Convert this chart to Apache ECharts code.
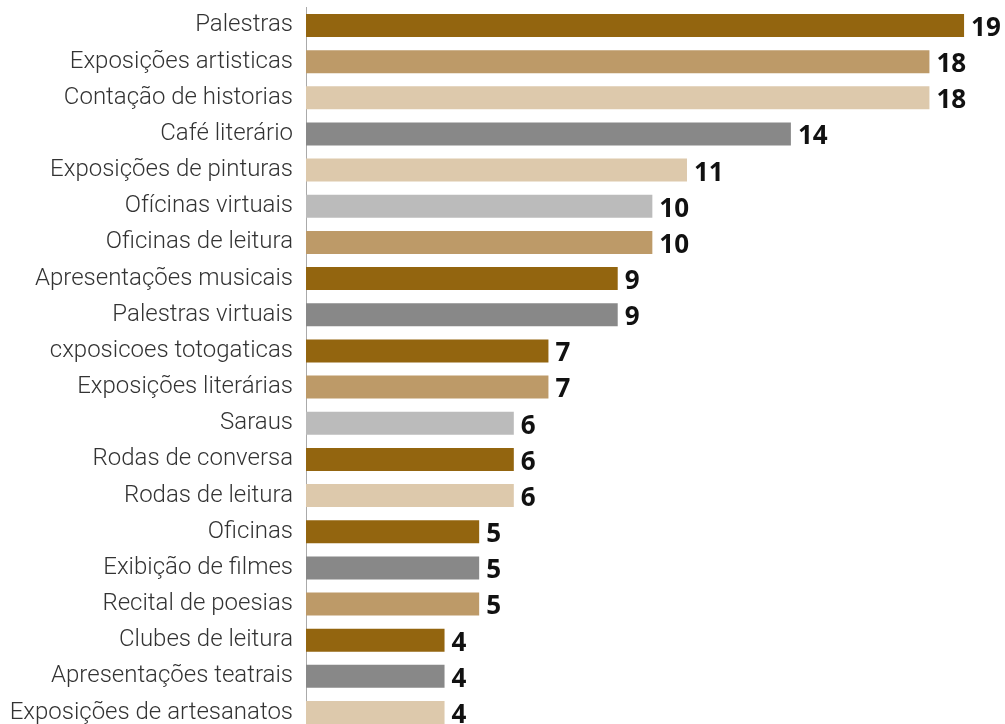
<!DOCTYPE html>
<html><head><meta charset="utf-8">
<script src="https://cdn.jsdelivr.net/npm/echarts@6/dist/echarts.min.js"></script>
<style>html,body{margin:0;padding:0;background:#fff}#c{width:1005px;height:724px}</style>
</head><body><div id="c"></div>
<script>
const categories = ["Palestras","Exposições artisticas","Contação de historias","Café literário","Exposições de pinturas","Ofícinas virtuais","Oficinas de leitura","Apresentações musicais","Palestras virtuais","cxposicoes totogaticas","Exposições literárias","Saraus","Rodas de conversa","Rodas de leitura","Oficinas","Exibição de filmes","Recital de poesias","Clubes de leitura","Apresentações teatrais","Exposições de artesanatos"];
const values = [19,18,18,14,11,10,10,9,9,7,7,6,6,6,5,5,5,4,4,4];
const colorKeys = ["dark","tan","beige","gray","beige","lgray","tan","dark","gray","dark","tan","lgray","dark","beige","dark","gray","tan","dark","gray","beige"];
const palette = {dark:"#93650F", tan:"#BD9A68", beige:"#DDC9AC", gray:"#888888", lgray:"#BBBBBB"};

const chart = echarts.init(document.getElementById('c'), null, {renderer:'canvas'});
chart.setOption({
  animation:false,
  grid:{left:306, width:692.7, top:7.4, height:723.2, containLabel:false, outerBoundsMode:'none'},
  xAxis:{type:'value', min:0, max:20, show:false},
  yAxis:{type:'category', data:categories, inverse:true, offset:6,
    axisLine:{show:true, lineStyle:{color:'#aaaaaa', width:1}},
    axisTick:{show:false},
    axisLabel:{margin:7, padding:[4,0,0,0], fontFamily:'Roboto', fontWeight:300, fontSize:24, color:'#333333'}
  },
  series:[{type:'bar', barWidth:23,
    data: values.map((v,i)=>({value:v, itemStyle:{color:palette[colorKeys[i]]}})),
    label:{show:true, position:'right', distance:7, offset:[0,3],
      fontFamily:'Open Sans', fontWeight:'bold', fontSize:26, color:'#111111'}
  }]
});
</script></body></html>
